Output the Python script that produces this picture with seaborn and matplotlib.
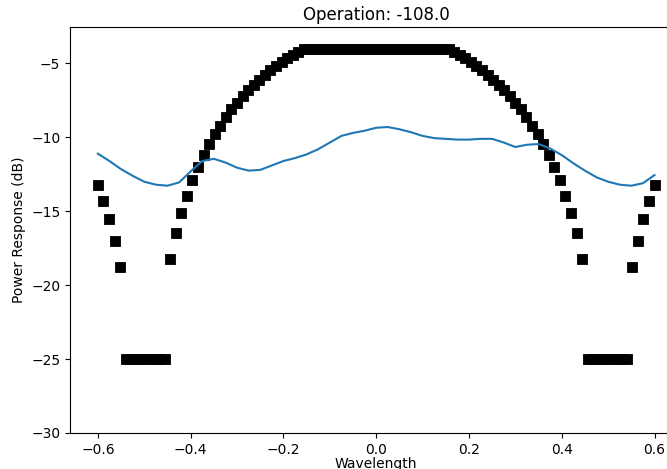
import numpy as np
import pandas as pd
import matplotlib
matplotlib.use("Agg")
import matplotlib.pyplot as plt
import seaborn as sns

title = "Operation: -108.0"
xlabel = "Wavelength"
ylabel = "Power Response (dB)"

# target response (black squares), 101 samples from -0.6 to 0.6
target_x = np.linspace(-0.6, 0.6, 101)
target_db = [
    -13.2, -14.3, -15.55, -17.0, -18.8,
    -25, -25, -25, -25, -25, -25, -25, -25,
    -18.2, -16.5, -15.1, -13.95, -12.9, -12.0, -11.2, -10.45, -9.8, -9.2,
    -8.6, -8.1, -7.65, -7.2, -6.8, -6.45, -6.1, -5.75, -5.45, -5.2,
    -4.9, -4.65, -4.4, -4.2, -4.05,
    -4, -4, -4, -4, -4, -4, -4, -4, -4, -4, -4, -4, -4,
    -4, -4, -4, -4, -4, -4, -4, -4, -4, -4, -4, -4,
    -4.05, -4.2, -4.4, -4.65, -4.9,
    -5.2, -5.45, -5.75, -6.1, -6.45, -6.8, -7.2, -7.65, -8.1, -8.6,
    -9.2, -9.8, -10.45, -11.2, -12.0, -12.9, -13.95, -15.1, -16.5, -18.2,
    -25, -25, -25, -25, -25, -25, -25, -25,
    -18.8, -17.0, -15.55, -14.3, -13.2,
]

# achieved response (blue line)
resp_x = [-0.60, -0.575, -0.55, -0.525, -0.50, -0.475, -0.45, -0.425, -0.40,
          -0.375, -0.35, -0.325, -0.30, -0.275, -0.25, -0.225, -0.20, -0.175,
          -0.15, -0.125, -0.10, -0.075, -0.05, -0.025, 0.0, 0.025, 0.05,
          0.075, 0.10, 0.125, 0.15, 0.175, 0.20, 0.225, 0.25, 0.275, 0.30,
          0.325, 0.35, 0.375, 0.40, 0.425, 0.45, 0.475, 0.50, 0.525, 0.55,
          0.575, 0.60]
resp_db = [-11.1, -11.6, -12.15, -12.6, -13.0, -13.2, -13.27, -13.05, -12.3,
           -11.6, -11.45, -11.7, -12.05, -12.25, -12.2, -11.9, -11.6, -11.4,
           -11.15, -10.8, -10.35, -9.9, -9.7, -9.55, -9.35, -9.3, -9.45,
           -9.65, -9.9, -10.05, -10.1, -10.15, -10.15, -10.1, -10.1, -10.35,
           -10.65, -10.5, -10.45, -10.75, -11.2, -11.75, -12.25, -12.7, -13.0,
           -13.2, -13.27, -13.1, -12.55]

df_t = pd.DataFrame({"x": target_x, "y": target_db})
df_r = pd.DataFrame({"x": resp_x, "y": resp_db})

fig = plt.figure(figsize=(6.67, 4.69), dpi=100)
ax = fig.add_axes([0.105, 0.0768, 0.918, 0.8657])

sns.scatterplot(data=df_t, x="x", y="y", marker="s", s=42, color="black",
                edgecolor="black", linewidth=0.6, ax=ax, zorder=2)
sns.lineplot(data=df_r, x="x", y="y", color="#1f77b4", linewidth=1.5,
             ax=ax, zorder=3, estimator=None, sort=False)

ax.set_xlim(-0.66, 0.66)
ax.set_ylim(-30, -2.53)
ax.set_title(title, fontsize=12, pad=5)
ax.set_xlabel(xlabel, fontsize=10, labelpad=0)
ax.set_ylabel(ylabel, fontsize=10)
ax.set_xticks([-0.6, -0.4, -0.2, 0.0, 0.2, 0.4, 0.6])
ax.set_yticks([-30, -25, -20, -15, -10, -5])

fig.savefig("out.png", dpi=100)
